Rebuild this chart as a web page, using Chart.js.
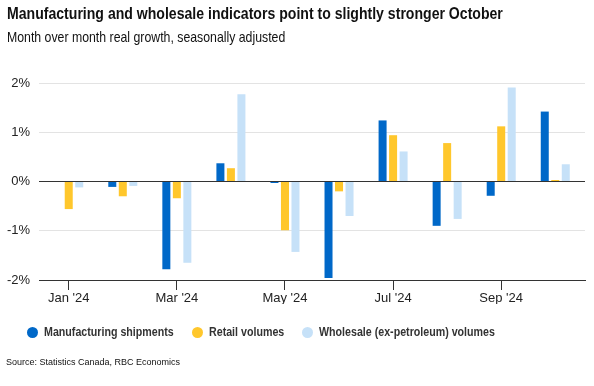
<!DOCTYPE html>
<html>
<head>
<meta charset="utf-8">
<script src="https://cdn.jsdelivr.net/npm/chart.js@4.4.1/dist/chart.umd.min.js"></script>
<style>
  html, body { margin: 0; padding: 0; background: #fff; }
  #wrap { position: relative; width: 594px; height: 386px; overflow: hidden; }
  #chart { position: absolute; left: 0; top: 0; }
  .txt { position: absolute; white-space: nowrap; color: #111; transform-origin: 0 0; }
  /* Original ist eine schmale Schrift – Liberation Sans horizontal gestaucht */
  #title { left: 7px; top: 5px; font: bold 17px/17px "Liberation Sans", Arial, sans-serif; transform: scaleX(0.828); }
  #subtitle { left: 7px; top: 29px; font: 15px/15px "Liberation Sans", Arial, sans-serif; transform: scaleX(0.82); }
  #source { left: 6px; top: 358px; font: 9px/9px "Liberation Sans", Arial, sans-serif; }
  .lg-dot { position: absolute; width: 11px; height: 11px; border-radius: 50%; }
  .lg-txt { position: absolute; white-space: nowrap; color: #333; transform-origin: 0 0; transform: scaleX(0.82);
            font: bold 13px/13px "Liberation Sans", Arial, sans-serif; }
</style>
</head>
<body>
<div id="wrap">
  <canvas id="chart" width="594" height="386"></canvas>
  <div class="txt" id="title">Manufacturing and wholesale indicators point to slightly stronger October</div>
  <div class="txt" id="subtitle">Month over month real growth, seasonally adjusted</div>
  <div id="legend"></div>
  <div class="txt" id="source">Source: Statistics Canada, RBC Economics</div>
</div>
<script>
// ── Daten (% m/m) ─────────────────────────────────────────────────────────────
const months = ["Jan '24", "Feb '24", "Mar '24", "Apr '24", "May '24", "Jun '24", "Jul '24", "Aug '24", "Sep '24", "Oct '24"];
const manufacturing = [0.0, -0.11, -1.78, 0.37, -0.03, -1.96, 1.24, -0.90, -0.29, 1.42];
const retail = [-0.56, -0.30, -0.34, 0.27, -0.99, -0.20, 0.94, 0.78, 1.12, 0.03];
const wholesale = [-0.12, -0.09, -1.65, 1.77, -1.43, -0.70, 0.61, -0.76, 1.91, 0.35];
const yTicks = [-2, -1, 0, 1, 2];

const BLUE = '#0068c8';
const YELLOW = '#ffc72c';
const LIGHT = '#c6e1f8';

// Index-Achse linear, damit die Achse links/rechts etwas Luft hat wie im Original
function toPoints(values) {
  return values.map((v, i) => ({ x: i, y: v }));
}

function makeDataset(label, values, color) {
  return {
    label: label,
    data: toPoints(values),
    backgroundColor: color,
    borderWidth: 0,
    categoryPercentage: 0.583,
    barPercentage: 0.762
  };
}

const config = {
  type: 'bar',
  data: {
    datasets: [
      makeDataset('Manufacturing shipments', manufacturing, BLUE),
      makeDataset('Retail volumes', retail, YELLOW),
      makeDataset('Wholesale (ex-petroleum) volumes', wholesale, LIGHT)
    ]
  },
  options: {
    responsive: false,
    animation: false,
    layout: { padding: { left: 7, right: 9, top: 83, bottom: 82 } },
    plugins: {
      tooltip: { enabled: false },
      legend: { display: false }
    },
    scales: {
      x: {
        type: 'linear',
        offset: false,
        min: -0.55,
        max: 9.55,
        afterBuildTicks: (scale) => {
          scale.ticks = months.map((m, i) => ({ value: i })).filter(t => t.value % 2 === 0);
        },
        afterFit: (scale) => { scale.height = 24; },
        ticks: {
          callback: (v) => months[v] || '',
          color: '#222',
          padding: 1,
          maxRotation: 0,
          autoSkip: false,
          font: { family: '"Liberation Sans", Arial, sans-serif', size: 13 }
        },
        grid: { offset: false, drawOnChartArea: false, drawTicks: true, tickLength: 10, tickColor: '#333' },
        border: { display: true, color: '#333', width: 1 }
      },
      y: {
        min: -2,
        max: 2,
        afterBuildTicks: (scale) => {
          scale.ticks = yTicks.map(v => ({ value: v }));
        },
        afterFit: (scale) => { scale.width = 32; },
        ticks: {
          callback: (v) => v + '%',
          color: '#222',
          padding: 9,
          font: { family: '"Liberation Sans", Arial, sans-serif', size: 13 }
        },
        grid: {
          drawTicks: false,
          color: (ctx) => (ctx.tick && (ctx.tick.value === 0 || ctx.tick.value === -2)) ? '#333' : '#e3e3e3',
          lineWidth: 1
        },
        border: { display: false }
      }
    }
  }
};

const chart = new Chart(document.getElementById('chart'), config);

// ── Legende (HTML, aus den Datasets) ──────────────────────────────────────────
function renderLegend() {
  const root = document.getElementById('legend');
  const meas = document.createElement('canvas').getContext('2d');
  meas.font = 'bold 13px "Liberation Sans", Arial, sans-serif';
  let x = 27;
  const yMid = 332;
  chart.data.datasets.forEach(ds => {
    const dot = document.createElement('div');
    dot.className = 'lg-dot';
    dot.style.background = ds.backgroundColor;
    dot.style.left = x + 'px';
    dot.style.top = (yMid - 5.5) + 'px';
    root.appendChild(dot);

    const txt = document.createElement('div');
    txt.className = 'lg-txt';
    txt.textContent = ds.label;
    txt.style.left = (x + 17) + 'px';
    txt.style.top = (yMid - 7) + 'px';
    root.appendChild(txt);

    const w = meas.measureText(ds.label).width * 0.82;
    x += 17 + w + 18;
  });
}
renderLegend();
</script>
</body>
</html>
